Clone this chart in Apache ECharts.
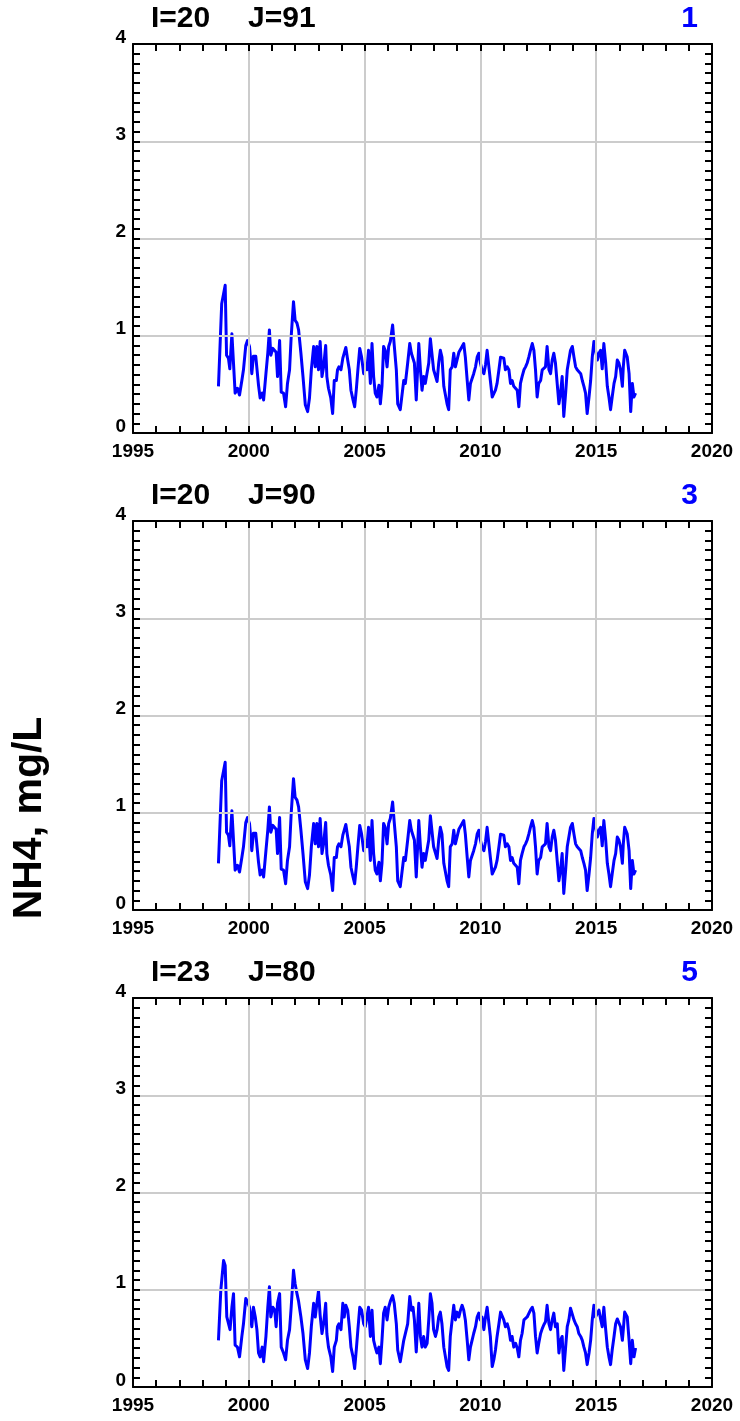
<!DOCTYPE html>
<html><head><meta charset="utf-8">
<script src="https://cdn.jsdelivr.net/npm/echarts@6/dist/echarts.min.js"></script>
<style>html,body{margin:0;padding:0;background:#fff}#c{width:740px;height:1421px}</style>
</head><body><div id="c"></div>
<script>
// ---------- data ----------
const panelI = ['I=20', 'I=20', 'I=23'];
const panelJ = ['J=91', 'J=90', 'J=80'];
const panelNo = ['1', '3', '5'];
const yAxisTitle = 'NH4, mg/L';
const xTickLabels = [1995, 2000, 2005, 2010, 2015, 2020];
const yTickLabels = [0, 1, 2, 3, 4];

// decimal years, early part (station 1 / 3)
const yearsEarly_st1 = [
 1998.69,1998.83,1998.98,1999.04,1999.12,1999.18,1999.27,1999.34,1999.41,1999.51,
 1999.60,1999.70,1999.77,1999.87,1999.94,2000.03,2000.13,2000.20,2000.30,2000.42,
 2000.49,2000.58,2000.64,2000.74,2000.82,2000.89,2000.95,2001.04,2001.12,2001.18,
 2001.24,2001.33,2001.40,2001.50,2001.59,2001.67,2001.76,2001.83,2001.93,2002.00,
 2002.08,2002.15,2002.25,2002.34,2002.44,2002.54,2002.62,2002.70,2002.80,2002.87,
 2002.94,2003.01,2003.08,2003.16,2003.23,2003.32,2003.37,2003.44,2003.54,2003.62,
 2003.69,2003.78,2003.83,2003.89,2003.98,2004.06,2004.12,2004.19,2004.27,2004.34,
 2004.41,2004.50,2004.57,2004.64,2004.71,2004.79,2004.87,2004.96,2005.03,2005.10,
 2005.17,2005.25,2005.32,2005.39,2005.46,2005.53,2005.62,2005.68,2005.75,2005.82,
 2005.89,2005.97,2006.04,2006.11,2006.21,2006.28,2006.37,2006.43];
const nh4Early_st1 = [
 0.48,1.33,1.52,0.80,0.77,0.66,1.02,1.04,0.41,0.46,
 0.39,0.54,0.65,0.90,0.95,0.89,0.61,0.79,0.79,0.49,
 0.36,0.41,0.34,0.61,0.82,1.06,0.80,0.87,0.85,0.83,
 0.58,0.95,0.42,0.41,0.27,0.51,0.65,0.99,1.35,1.16,
 1.13,1.06,0.82,0.58,0.29,0.22,0.36,0.65,0.89,0.68,
 0.89,0.65,0.94,0.58,0.68,0.90,0.58,0.46,0.36,0.20,
 0.54,0.54,0.65,0.68,0.65,0.77,0.77,0.88,0.75,0.65,
 0.44,0.34,0.27,0.44,0.65,0.87,0.78,0.61,0.70,0.65,
 0.85,0.51,0.92,0.58,0.41,0.37,0.49,0.30,0.48,0.89,
 0.85,0.68,0.89,0.94,1.11,0.90,0.65,0.30];

// decimal years, early part (station 5)
const yearsEarly_st5 = [
 1998.69,1998.79,1998.91,1998.98,1999.05,1999.12,1999.19,1999.27,1999.34,1999.41,
 1999.51,1999.60,1999.70,1999.77,1999.87,1999.94,2000.03,2000.13,2000.20,2000.28,
 2000.35,2000.42,2000.49,2000.58,2000.64,2000.74,2000.82,2000.89,2000.95,2001.04,
 2001.12,2001.18,2001.24,2001.33,2001.40,2001.50,2001.59,2001.67,2001.76,2001.83,
 2001.93,2002.00,2002.08,2002.15,2002.25,2002.34,2002.44,2002.54,2002.62,2002.70,
 2002.80,2002.87,2002.94,2003.01,2003.08,2003.16,2003.23,2003.32,2003.37,2003.44,
 2003.54,2003.62,2003.69,2003.78,2003.83,2003.89,2003.98,2004.06,2004.12,2004.19,
 2004.27,2004.34,2004.41,2004.50,2004.57,2004.64,2004.71,2004.79,2004.87,2004.96,
 2005.03,2005.10,2005.17,2005.25,2005.32,2005.39,2005.46,2005.53,2005.62,2005.68,
 2005.75,2005.82,2005.89,2005.97,2006.04,2006.11,2006.21,2006.28,2006.37,2006.43];
const nh4Early_st5 = [
 0.48,0.99,1.30,1.25,0.72,0.70,0.59,0.82,0.96,0.43,
 0.41,0.31,0.52,0.65,0.91,0.88,0.82,0.62,0.82,0.72,
 0.59,0.35,0.31,0.41,0.26,0.52,0.82,1.03,0.72,0.82,
 0.79,0.62,0.86,0.96,0.41,0.35,0.28,0.48,0.59,0.82,
 1.20,1.06,0.96,0.88,0.72,0.55,0.28,0.19,0.35,0.62,
 0.86,0.72,0.86,0.99,0.74,0.55,0.65,0.86,0.55,0.41,
 0.31,0.16,0.41,0.48,0.62,0.65,0.59,0.86,0.72,0.84,
 0.79,0.62,0.41,0.31,0.19,0.38,0.59,0.82,0.79,0.65,
 0.62,0.72,0.82,0.52,0.79,0.48,0.41,0.35,0.41,0.24,
 0.48,0.76,0.82,0.69,0.82,0.88,0.94,0.86,0.65,0.38];

// decimal years, late part (all stations)
const yearsLate = [
 2006.54,2006.69,2006.76,2006.86,2006.95,2007.02,2007.09,2007.15,2007.23,2007.34,
 2007.41,2007.48,2007.55,2007.62,2007.70,2007.77,2007.84,2007.91,2007.98,2008.06,
 2008.13,2008.20,2008.27,2008.34,2008.42,2008.49,2008.56,2008.63,2008.70,2008.78,
 2008.85,2008.92,2008.99,2009.07,2009.14,2009.21,2009.28,2009.35,2009.43,2009.50,
 2009.57,2009.64,2009.71,2009.79,2009.86,2009.93,2010.00,2010.07,2010.15,2010.22,
 2010.29,2010.36,2010.43,2010.51,2010.58,2010.65,2010.72,2010.80,2010.87,2010.94,
 2011.01,2011.08,2011.16,2011.23,2011.30,2011.37,2011.44,2011.52,2011.59,2011.66,
 2011.73,2011.80,2011.88,2011.95,2012.02,2012.09,2012.16,2012.24,2012.31,2012.38,
 2012.45,2012.52,2012.60,2012.67,2012.74,2012.81,2012.88,2012.96,2013.03,2013.10,
 2013.17,2013.24,2013.32,2013.39,2013.46,2013.53,2013.60,2013.68,2013.75,2013.82,
 2013.89,2013.97,2014.04,2014.11,2014.18,2014.25,2014.33,2014.40,2014.47,2014.54,
 2014.61,2014.69,2014.76,2014.83,2014.90,2014.97,2015.05,2015.12,2015.19,2015.26,
 2015.33,2015.41,2015.48,2015.55,2015.62,2015.69,2015.77,2015.84,2015.91,2015.98,
 2016.05,2016.13,2016.17,2016.23,2016.29,2016.34,2016.42,2016.49,2016.56,2016.63,
 2016.70];
const nh4Late_st1 = [
 0.24,0.54,0.51,0.72,0.92,0.82,0.82,0.72,0.34,0.92,
 0.65,0.44,0.58,0.51,0.53,0.72,0.97,0.95,0.65,0.65,
 0.53,0.72,0.85,0.78,0.48,0.48,0.30,0.24,0.65,0.68,
 0.82,0.68,0.75,0.83,0.85,0.89,0.92,0.78,0.54,0.34,
 0.51,0.49,0.61,0.68,0.78,0.82,0.72,0.65,0.61,0.70,
 0.85,0.85,0.54,0.37,0.37,0.44,0.51,0.65,0.78,0.80,
 0.77,0.65,0.68,0.65,0.51,0.54,0.48,0.49,0.44,0.27,
 0.51,0.58,0.65,0.68,0.72,0.78,0.85,0.92,0.85,0.65,
 0.37,0.51,0.54,0.65,0.65,0.68,0.89,0.65,0.61,0.75,
 0.82,0.72,0.72,0.30,0.41,0.58,0.17,0.41,0.65,0.75,
 0.85,0.89,0.78,0.68,0.65,0.65,0.61,0.54,0.48,0.41,
 0.20,0.37,0.54,0.78,0.94,0.85,0.75,0.82,0.85,0.66,
 0.92,0.72,0.48,0.37,0.24,0.37,0.51,0.58,0.75,0.72,
 0.65,0.48,0.68,0.85,0.85,0.78,0.61,0.22,0.51,0.37,
 0.41];
const nh4Late_st5 = [
 0.26,0.48,0.48,0.65,0.93,0.79,0.82,0.69,0.36,0.86,
 0.52,0.41,0.52,0.41,0.45,0.69,0.96,0.86,0.59,0.52,
 0.59,0.72,0.77,0.65,0.41,0.41,0.21,0.17,0.52,0.69,
 0.84,0.69,0.77,0.72,0.79,0.84,0.79,0.69,0.48,0.28,
 0.41,0.48,0.55,0.62,0.72,0.76,0.69,0.72,0.59,0.72,
 0.82,0.84,0.52,0.21,0.28,0.38,0.52,0.65,0.77,0.77,
 0.69,0.62,0.65,0.59,0.48,0.52,0.41,0.45,0.40,0.31,
 0.48,0.55,0.69,0.69,0.72,0.74,0.79,0.82,0.76,0.52,
 0.35,0.45,0.55,0.60,0.64,0.67,0.84,0.65,0.59,0.69,
 0.76,0.62,0.65,0.35,0.48,0.52,0.17,0.41,0.62,0.69,
 0.81,0.79,0.69,0.65,0.62,0.55,0.52,0.48,0.41,0.35,
 0.23,0.35,0.48,0.69,0.84,0.72,0.72,0.79,0.70,0.62,
 0.82,0.59,0.41,0.31,0.23,0.38,0.52,0.65,0.70,0.69,
 0.62,0.48,0.59,0.77,0.79,0.72,0.48,0.24,0.48,0.31,
 0.40];
// station 3 (middle panel) shows the same curve as station 1 in the reference
const nh4Early_st3 = nh4Early_st1;
const nh4Late_st3 = nh4Late_st1;

// ---------- build ----------
const FONT = '"Liberation Sans", Arial, sans-serif';
const panels = [
  { years: yearsEarly_st1.concat(yearsLate), vals: nh4Early_st1.concat(nh4Late_st1) },
  { years: yearsEarly_st1.concat(yearsLate), vals: nh4Early_st3.concat(nh4Late_st3) },
  { years: yearsEarly_st5.concat(yearsLate), vals: nh4Early_st5.concat(nh4Late_st5) }
];
const tops = [44, 521, 998];
const H = 389;
const grid = [], xAxis = [], yAxis = [], series = [], graphic = [];
const black = { color: '#000', width: 2 };
const lbl = { color: '#000', fontWeight: 'bold', fontSize: 19, fontFamily: FONT };

tops.forEach((top, g) => {
  grid.push({ left: 133, width: 579, top: top, height: H, containLabel: false });
  ['bottom', 'top'].forEach(pos => {
    xAxis.push({
      type: 'value', gridIndex: g, position: pos, min: xTickLabels[0], max: xTickLabels[xTickLabels.length - 1], interval: 5,
      axisLine: { show: true, onZero: false, lineStyle: black },
      axisTick: { show: true, inside: true, length: 7, lineStyle: black },
      minorTick: { show: true, splitNumber: 5, length: 7, lineStyle: black },
      axisLabel: Object.assign({ show: pos === 'bottom', margin: 9, formatter: v => String(v) }, lbl),
      splitLine: { show: pos === 'bottom', showMinLine: false, showMaxLine: false, lineStyle: { color: '#cccccc', width: 2 } },
      z: pos === 'bottom' ? 3 : 4
    });
  });
  ['left', 'right'].forEach(pos => {
    yAxis.push({
      type: 'value', gridIndex: g, position: pos, min: yTickLabels[0], max: yTickLabels[yTickLabels.length - 1], interval: 1,
      axisLine: { show: true, onZero: false, lineStyle: black },
      axisTick: { show: true, inside: true, length: 7, lineStyle: black },
      minorTick: { show: true, splitNumber: 10, length: 7, lineStyle: black },
      axisLabel: Object.assign({ show: pos === 'left', margin: 7, verticalAlign: 'bottom', lineHeight: 13, formatter: v => String(v) }, lbl),
      splitLine: { show: pos === 'left', showMinLine: false, showMaxLine: false, lineStyle: { color: '#cccccc', width: 2 } },
      z: pos === 'left' ? 3 : 4
    });
  });
  const p = panels[g];
  series.push({
    type: 'line', xAxisIndex: g * 2, yAxisIndex: g * 2,
    data: p.years.map((t, i) => [t, p.vals[i]]),
    showSymbol: false, symbol: 'none',
    lineStyle: { color: '#0000ff', width: 3, join: 'round' },
    z: 2, animation: false
  });
  graphic.push({ type: 'text', left: 151, top: top - 40, style: { text: panelI[g], font: 'bold 30px ' + FONT, fill: '#000' } });
  graphic.push({ type: 'text', left: 248, top: top - 40, style: { text: panelJ[g], font: 'bold 30px ' + FONT, fill: '#000' } });
  graphic.push({ type: 'text', right: 42, top: top - 40, style: { text: panelNo[g], font: 'bold 30px ' + FONT, fill: '#0000ff' } });
});
graphic.push({ type: 'text', x: 30, y: 818, rotation: Math.PI / 2,
  style: { text: yAxisTitle, font: 'bold 41px ' + FONT, fill: '#000', align: 'center', verticalAlign: 'middle' } });

const chart = echarts.init(document.getElementById('c'), null, { renderer: 'canvas' });
chart.setOption({ animation: false, backgroundColor: '#fff', grid, xAxis, yAxis, series, graphic });
</script></body></html>
